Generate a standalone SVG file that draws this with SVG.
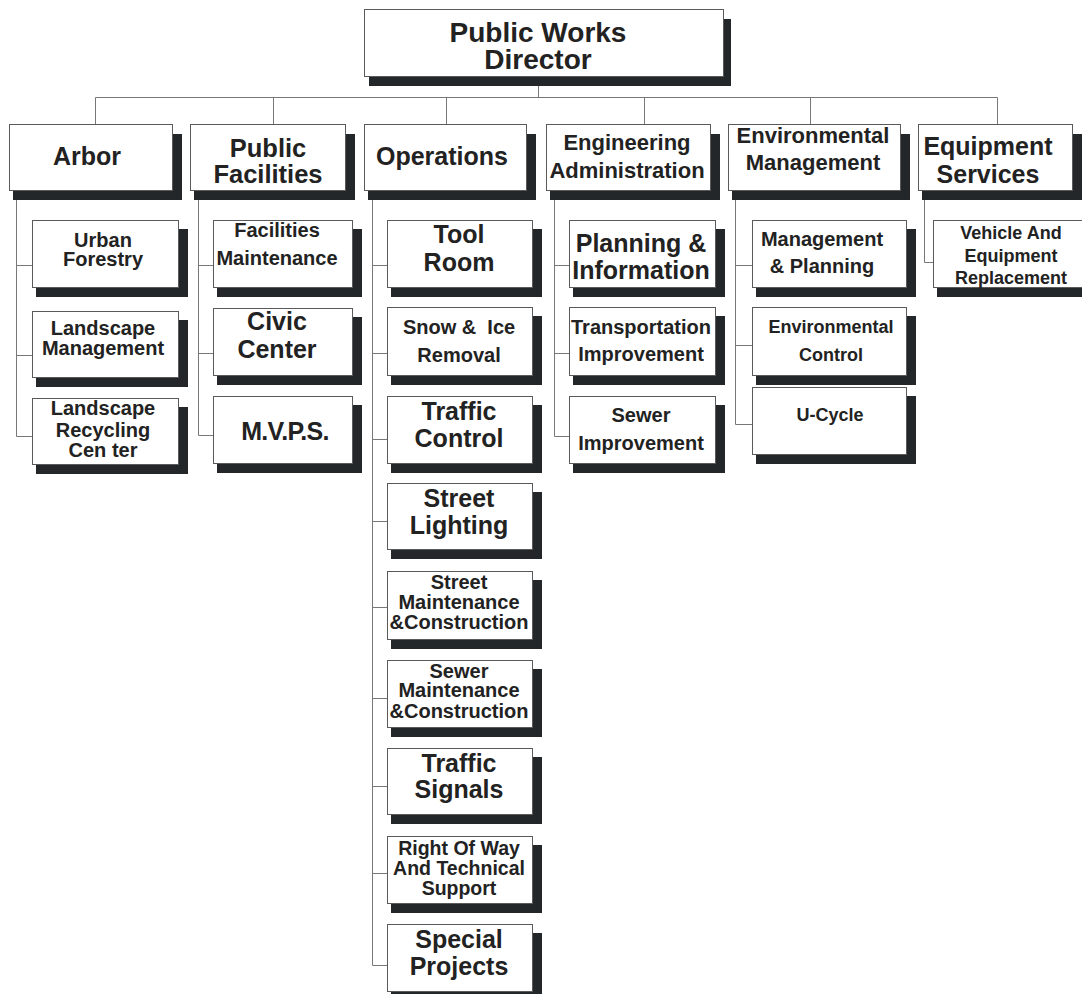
<svg xmlns="http://www.w3.org/2000/svg" width="1082" height="994" viewBox="0 0 1082 994">
<style>
.box{fill:#fff;stroke:#5a5a5a;stroke-width:1}
.sh{fill:#24272a}
.ln{fill:none;stroke:#777;stroke-width:1}
text{font-family:"Liberation Sans",Arial,Helvetica,sans-serif;font-weight:bold;fill:#222;text-anchor:middle}
.b{font-size:25px}
.m{font-size:20px}
.s{font-size:18px}
.h2{font-size:22px}
</style>
<rect width="1082" height="994" fill="#fff"/>
<g id="connectors" class="ln">
<path d="M95.5,97.5H997.5M538.5,76V97.5"/>
<path d="M95.5,97.5V124M273.5,97.5V124M446.5,97.5V124M644.5,97.5V124M810.5,97.5V124M997.5,97.5V124"/>
<path d="M16.5,190V436.5H32M16.5,265.5H32M16.5,355.5H32"/>
<path d="M198.5,190V435.5H213M198.5,265.5H213M198.5,353.5H213"/>
<path d="M372.5,190V965.5H387M372.5,265.5H387M372.5,353.5H387M372.5,439.5H387M372.5,521.5H387M372.5,607.5H387M372.5,698.5H387M372.5,786.5H387M372.5,873.5H387"/>
<path d="M554.5,190V436.5H569M554.5,265.5H569M554.5,353.5H569"/>
<path d="M735.5,190V424.5H752M735.5,265.5H752M735.5,345.5H752"/>
<path d="M924.5,190V262.5H933"/>
</g>

<g id="director">
<rect class="box" x="364.5" y="9.5" width="359" height="67"/>
<text class="b" style="font-size:28px" x="538" y="42">Public Works</text>
<text class="b" style="font-size:28px" x="538" y="69">Director</text>
<path class="sh" d="M724,19h7V86H369V77H724Z"/>
</g>

<g id="arbor">
<rect class="box" x="9.5" y="124.5" width="163" height="66"/>
<text class="b" x="87" y="165">Arbor</text>
<path class="sh" d="M173,134h9V200H13V191H173Z"/>
</g>
<g id="public-facilities">
<rect class="box" x="190.5" y="124.5" width="155" height="66"/>
<text class="b" style="font-size:25.5px" x="268" y="157">Public</text>
<text class="b" style="font-size:25.5px" x="268" y="183">Facilities</text>
<path class="sh" d="M346,134h9V200H194V191H346Z"/>
</g>
<g id="operations">
<rect class="box" x="364.5" y="124.5" width="162" height="66"/>
<text class="b" x="442" y="165">Operations</text>
<path class="sh" d="M527,134h9V200H368V191H527Z"/>
</g>
<g id="engineering-administration">
<rect class="box" x="546.5" y="124.5" width="164" height="66"/>
<text class="h2" x="627" y="150">Engineering</text>
<text class="h2" x="627" y="178">Administration</text>
<path class="sh" d="M711,134h9V200H550V191H711Z"/>
</g>
<g id="environmental-management">
<rect class="box" x="728.5" y="124.5" width="172" height="66"/>
<text class="h2" x="813" y="143">Environmental</text>
<text class="h2" x="813" y="170">Management</text>
<path class="sh" d="M901,134h9V200H732V191H901Z"/>
</g>
<g id="equipment-services">
<rect class="box" x="918.5" y="124.5" width="154" height="66"/>
<text class="b" x="988" y="155">Equipment</text>
<text class="b" x="988" y="183">Services</text>
<path class="sh" d="M1073,134h9V200H922V191H1073Z"/>
</g>

<g id="urban-forestry">
<rect class="box" x="32.5" y="220.5" width="146" height="67"/>
<text class="m" x="103" y="247">Urban</text>
<text class="m" x="103" y="266">Forestry</text>
<path class="sh" d="M179,229h9V297H36V288H179Z"/>
</g>
<g id="landscape-management">
<rect class="box" x="32.5" y="311.5" width="146" height="66"/>
<text class="m" x="103" y="335">Landscape</text>
<text class="m" x="103" y="355">Management</text>
<path class="sh" d="M179,320h9V387H36V378H179Z"/>
</g>
<g id="landscape-recycling-center">
<rect class="box" x="32.5" y="398.5" width="146" height="66"/>
<text class="m" x="103" y="415">Landscape</text>
<text class="m" x="103" y="437">Recycling</text>
<text class="m" x="103" y="457">Cen ter</text>
<path class="sh" d="M179,407h9V474H36V465H179Z"/>
</g>

<g id="facilities-maintenance">
<rect class="box" x="213.5" y="220.5" width="139" height="67"/>
<text class="m" x="277" y="237">Facilities</text>
<text class="m" x="277" y="265">Maintenance</text>
<path class="sh" d="M353,229h9V297H217V288H353Z"/>
</g>
<g id="civic-center">
<rect class="box" x="213.5" y="308.5" width="139" height="67"/>
<text class="b" x="277" y="330">Civic</text>
<text class="b" x="277" y="358">Center</text>
<path class="sh" d="M353,317h9V385H217V376H353Z"/>
</g>
<g id="mvps">
<rect class="box" x="213.5" y="396.5" width="139" height="67"/>
<text class="b" x="285" y="440" style="letter-spacing:-0.7px">M.V.P.S.</text>
<path class="sh" d="M353,405h9V473H217V464H353Z"/>
</g>

<g id="tool-room">
<rect class="box" x="387.5" y="220.5" width="145" height="67"/>
<text class="b" x="459" y="243">Tool</text>
<text class="b" x="459" y="271">Room</text>
<path class="sh" d="M533,229h9V297H391V288H533Z"/>
</g>
<g id="snow-ice-removal">
<rect class="box" x="387.5" y="307.5" width="145" height="68"/>
<text class="m" x="459" y="334" xml:space="preserve">Snow &amp;  Ice</text>
<text class="m" x="459" y="362">Removal</text>
<path class="sh" d="M533,316h9V385H391V376H533Z"/>
</g>
<g id="traffic-control">
<rect class="box" x="387.5" y="396.5" width="145" height="67"/>
<text class="b" x="459" y="420">Traffic</text>
<text class="b" x="459" y="447">Control</text>
<path class="sh" d="M533,405h9V473H391V464H533Z"/>
</g>
<g id="street-lighting">
<rect class="box" x="387.5" y="483.5" width="145" height="66"/>
<text class="b" x="459" y="507">Street</text>
<text class="b" x="459" y="534">Lighting</text>
<path class="sh" d="M533,492h9V559H391V550H533Z"/>
</g>
<g id="street-maintenance-construction">
<rect class="box" x="387.5" y="571.5" width="145" height="68"/>
<text class="m" x="459" y="589">Street</text>
<text class="m" x="459" y="609">Maintenance</text>
<text class="m" x="459" y="629">&amp;Construction</text>
<path class="sh" d="M533,580h9V649H391V640H533Z"/>
</g>
<g id="sewer-maintenance-construction">
<rect class="box" x="387.5" y="660.5" width="145" height="67"/>
<text class="m" x="459" y="678">Sewer</text>
<text class="m" x="459" y="697">Maintenance</text>
<text class="m" x="459" y="718">&amp;Construction</text>
<path class="sh" d="M533,669h9V737H391V728H533Z"/>
</g>
<g id="traffic-signals">
<rect class="box" x="387.5" y="748.5" width="145" height="66"/>
<text class="b" x="459" y="772">Traffic</text>
<text class="b" x="459" y="798">Signals</text>
<path class="sh" d="M533,757h9V824H391V815H533Z"/>
</g>
<g id="right-of-way">
<rect class="box" x="387.5" y="836.5" width="145" height="67"/>
<text class="m" style="font-size:19.5px" x="459" y="855">Right Of Way</text>
<text class="m" style="font-size:19.5px" x="459" y="875">And Technical</text>
<text class="m" style="font-size:19.5px" x="459" y="895">Support</text>
<path class="sh" d="M533,845h9V913H391V904H533Z"/>
</g>
<g id="special-projects">
<rect class="box" x="387.5" y="924.5" width="145" height="67"/>
<text class="b" x="459" y="948">Special</text>
<text class="b" x="459" y="975">Projects</text>
<path class="sh" d="M533,933h9V1001H391V992H533Z"/>
</g>

<g id="planning-information">
<rect class="box" x="569.5" y="220.5" width="146" height="67"/>
<text class="b" x="641" y="252">Planning &amp;</text>
<text class="b" x="641" y="279">Information</text>
<path class="sh" d="M716,229h9V297H573V288H716Z"/>
</g>
<g id="transportation-improvement">
<rect class="box" x="569.5" y="307.5" width="146" height="68"/>
<text class="m" x="641" y="334">Transportation</text>
<text class="m" x="641" y="361">Improvement</text>
<path class="sh" d="M716,316h9V385H573V376H716Z"/>
</g>
<g id="sewer-improvement">
<rect class="box" x="569.5" y="396.5" width="146" height="67"/>
<text class="m" x="641" y="422">Sewer</text>
<text class="m" x="641" y="450">Improvement</text>
<path class="sh" d="M716,405h9V473H573V464H716Z"/>
</g>

<g id="management-planning">
<rect class="box" x="752.5" y="220.5" width="154" height="67"/>
<text class="m" x="822" y="246">Management</text>
<text class="m" x="822" y="273">&amp; Planning</text>
<path class="sh" d="M907,229h9V297H756V288H907Z"/>
</g>
<g id="environmental-control">
<rect class="box" x="752.5" y="307.5" width="154" height="68"/>
<text class="s" x="831" y="333">Environmental</text>
<text class="s" x="831" y="361">Control</text>
<path class="sh" d="M907,316h9V385H756V376H907Z"/>
</g>
<g id="u-cycle">
<rect class="box" x="752.5" y="387.5" width="154" height="67"/>
<text class="s" x="830" y="421">U-Cycle</text>
<path class="sh" d="M907,396h9V464H756V455H907Z"/>
</g>

<g id="vehicle-equipment-replacement">
<rect class="box" x="933.5" y="220.5" width="157" height="67"/>
<text class="s" x="1011" y="239">Vehicle And</text>
<text class="s" x="1011" y="262">Equipment</text>
<text class="s" x="1011" y="284">Replacement</text>
<path class="sh" d="M1091,229h9V297H937V288H1091Z"/>
</g>
</svg>
